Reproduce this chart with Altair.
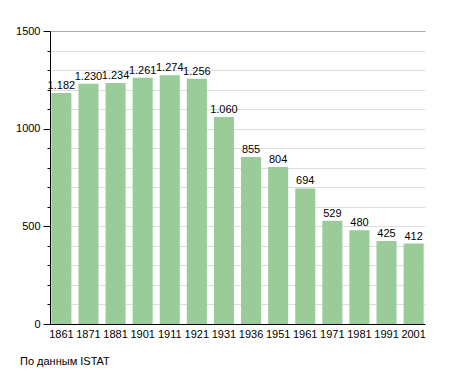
import altair as alt
import pandas as pd

years = ["1861", "1871", "1881", "1901", "1911", "1921", "1931", "1936", "1951", "1961", "1971", "1981", "1991", "2001"]
population = [1182, 1230, 1234, 1261, 1274, 1256, 1060, 855, 804, 694, 529, 480, 425, 412]
caption = "По данным ISTAT"

df = pd.DataFrame({"year": years, "pop": population})

W, H = 375, 293
FONT = "Liberation Sans"

x = alt.X("year:N", sort=years, title=None,
          scale=alt.Scale(paddingInner=0.26, paddingOuter=0.05),
          axis=alt.Axis(labelAngle=0, ticks=False, grid=False, domainColor="black", labelColor="black",
                        labelFontSize=11, labelFont=FONT, labelPadding=4))
y = alt.Y("pop:Q", title=None,
          scale=alt.Scale(domain=[0, 1500], nice=False),
          axis=alt.Axis(values=list(range(0, 1501, 100)),
                        labelExpr="datum.value % 500 === 0 ? datum.value : ''",
                        labelOverlap=False, labelBound=False,
                        tickSize={"condition": {"test": "datum.value % 500 === 0", "value": 7}, "value": 3},
                        gridColor={"condition": {"test": "datum.value === 1500", "value": "#aaaaaa"}, "value": "#dddddd"},
                        tickColor="black", domainColor="black", labelColor="black",
                        labelFontSize=11, labelFont=FONT, labelPadding=3))

base = alt.Chart(df)
bars = base.mark_bar(color="#99cc99").encode(x=x, y=y)
labels = base.transform_calculate(
    lbl="replace(format(datum.pop, ','), ',', '.')"
).mark_text(dy=-7, fontSize=11, font=FONT, color="black").encode(
    x=x, y=y, text="lbl:N")

cap = alt.Chart(pd.DataFrame({"c": [caption]})).mark_text(
    align="left", baseline="middle", fontSize=11, font=FONT, color="black"
).encode(x=alt.value(-30), y=alt.value(331), text="c:N")

chart = alt.layer(bars, labels, cap).properties(
    width=W, height=H,
    background="white",
    autosize=alt.AutoSizeParams(type="none"),
    padding={"left": 42, "top": 23, "right": 20, "bottom": 50},
).configure_view(stroke=None).configure_axis(labelOverlap=False)

chart.save("out.html", embed_options={"renderer": "svg", "actions": False})
